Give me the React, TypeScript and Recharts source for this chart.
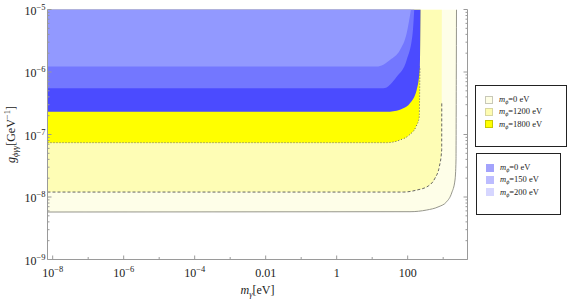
import React from 'react';
import { ComposedChart, Area, Line, XAxis, YAxis, Label } from 'recharts';

const TOP = 1e-5;
const BOTTOM = 1e-9;
const X_MIN = 7.15e-9;
const X_MAX = 4840;

// yellow regions (mass in eV, coupling in GeV^-1 along the lower/right edge)
const mass0 = [X_MIN, 116, 343, 714, 1256, 1734, 2153, 2296, 2340, 2372];
const coupling0 = [5.75e-9, 5.82e-9, 6.19e-9, 6.92e-9, 8.41e-9, 1.16e-8, 1.87e-8, 3.91e-8, 7.5e-7, 1e-5];

const mass1200 = [X_MIN, 75, 179, 380, 587, 777, 907, 912, 916];
const coupling1200 = [1.2e-8, 1.2e-8, 1.29e-8, 1.5e-8, 2.0e-8, 3.05e-8, 5.65e-8, 3.31e-7, 1e-5];

const mass1800 = [X_MIN, 25.6, 60.7, 111, 171, 212, 216, 222, 230];
const coupling1800 = [7.4e-8, 7.4e-8, 8.17e-8, 9.82e-8, 1.33e-7, 1.9e-7, 3.56e-7, 1.22e-6, 1e-5];

// blue regions
const massB0 = [X_MIN, 31.7, 75.2, 116, 179, 222, 230];
const couplingB0 = [2.32e-7, 2.32e-7, 2.62e-7, 3.16e-7, 5.15e-7, 1.22e-6, 1e-5];

const massB150 = [X_MIN, 20.6, 49, 93.7, 138, 153];
const couplingB150 = [5.48e-7, 5.48e-7, 8.41e-7, 1.56e-6, 4.16e-6, 1e-5];

const massB200 = [X_MIN, 13.4, 31.7, 60.7, 93.7, 124];
const couplingB200 = [1.22e-6, 1.22e-6, 1.56e-6, 2.25e-6, 4.16e-6, 1e-5];

const xTicks = [1e-8, 1e-7, 1e-6, 1e-5, 1e-4, 1e-3, 1e-2, 1e-1, 1, 10, 100, 1000];
const xPlainLabels: Record<number, string> = { [-2]: '0.01', 0: '1', 2: '100' };
const yDecades = [-9, -8, -7, -6];
const yTicks = [...yDecades.flatMap((e) => [1, 2, 3, 4, 5, 6, 7, 8, 9].map((k) => k * Math.pow(10, e))), TOP];

const yellowLegend = ['0', '1200', '1800'];
const blueLegend = ['0', '150', '200'];

const FONT = '"Liberation Serif", "Times New Roman", Times, serif';
const FRAME = '#9a9a9a';
const TEXT = '#222';

type Row = { m: number; [key: string]: number };
const series: [string, number[], number[]][] = [
  ['y0', mass0, coupling0],
  ['y1200', mass1200, coupling1200],
  ['y1800', mass1800, coupling1800],
  ['b0', massB0, couplingB0],
  ['b150', massB150, couplingB150],
  ['b200', massB200, couplingB200],
];
const rowMap = new Map<number, Row>();
series.forEach(([key, ms, gs]) => {
  ms.forEach((m, i) => {
    const row = rowMap.get(m) || { m };
    row[key] = gs[i];
    rowMap.set(m, row);
  });
});
const chartData = [...rowMap.values()].sort((a, b) => a.m - b.m);

const expOf = (v: number) => Math.round(Math.log10(v));
const isDecade = (v: number) => Math.abs(Math.log10(v) - expOf(v)) < 1e-6;

const PowText = ({ x, y, exp, anchor }: any) => (
  <text x={x} y={y} textAnchor={anchor} fontFamily={FONT} fontSize={12} fill={TEXT}>
    <tspan>10</tspan>
    <tspan dy={-5} fontSize={8.5}>{'\u2212' + Math.abs(exp)}</tspan>
  </text>
);

const BottomTick = ({ x, y, payload }: any) => {
  const e = expOf(payload.value);
  const labelled = e % 2 === 0;
  return (
    <g>
      <line x1={x} y1={y} x2={x} y2={y - (labelled ? 4 : 2.5)} stroke={FRAME} />
      {labelled && e <= -4 && <PowText x={x} y={y + 17} exp={e} anchor="middle" />}
      {labelled && e > -4 && (
        <text x={x} y={y + 17} textAnchor="middle" fontFamily={FONT} fontSize={12} fill={TEXT}>
          {xPlainLabels[e]}
        </text>
      )}
    </g>
  );
};

const TopTick = ({ x, y, payload }: any) => {
  const e = expOf(payload.value);
  return <line x1={x} y1={y} x2={x} y2={y + (e % 2 === 0 ? 4 : 2.5)} stroke={FRAME} />;
};

const LeftTick = ({ x, y, payload }: any) => {
  const major = isDecade(payload.value);
  return (
    <g>
      <line x1={x} y1={y} x2={x + (major ? 4 : 2)} y2={y} stroke={FRAME} />
      {major && <PowText x={x - 2} y={y + 5} exp={expOf(payload.value)} anchor="end" />}
    </g>
  );
};

const RightTick = ({ x, y, payload }: any) => {
  const major = isDecade(payload.value);
  return <line x1={x} y1={y} x2={x - (major ? 4 : 2)} y2={y} stroke={FRAME} />;
};

const XTitle = ({ viewBox }: any) => {
  const cx = viewBox.x + viewBox.width / 2;
  return (
    <text x={cx} y={viewBox.y + 34} textAnchor="middle" fontFamily={FONT} fontSize={12} fill={TEXT}>
      <tspan fontStyle="italic">m</tspan>
      <tspan dy={3} fontSize={8.5} fontStyle="italic">γ</tspan>
      <tspan dy={-3}>[eV]</tspan>
    </text>
  );
};

const YTitle = ({ viewBox }: any) => {
  const cy = viewBox.y + viewBox.height / 2;
  const bx = 15;
  return (
    <text
      x={bx}
      y={cy}
      transform={`rotate(-90, ${bx}, ${cy})`}
      textAnchor="middle"
      fontFamily={FONT}
      fontSize={12}
      fill={TEXT}
    >
      <tspan fontStyle="italic">g</tspan>
      <tspan dy={3} fontSize={8.5} fontStyle="italic">ϕγγ</tspan>
      <tspan dy={-3}>[GeV</tspan>
      <tspan dy={-5} fontSize={8.5}>{'\u22121'}</tspan>
      <tspan dy={5}>]</tspan>
    </text>
  );
};

const rangeKey = (key: string) => (r: Row) => (r[key] != null ? [r[key], TOP] : [null, null]);
const edgeKey = (key: string, below: number) => (r: Row) =>
  r[key] != null && r[key] <= below ? r[key] : null;

const regionFills: [string, string][] = [
  ['y0', '#fefee8'],
  ['y1200', '#fefdb5'],
  ['y1800', '#ffff00'],
  ['b0', '#4b4bff'],
  ['b150', '#7377ff'],
  ['b200', '#9299ff'],
];

const LegendBox = ({ left, top, width, masses, swatches }: any) => (
  <div
    style={{
      position: 'absolute',
      left,
      top,
      width,
      height: 62,
      border: '1px solid #222',
      boxSizing: 'border-box',
      background: '#fff',
      fontFamily: FONT,
      fontSize: 8.5,
      color: TEXT,
    }}
  >
    {masses.map((mass: string, i: number) => (
      <div
        key={mass + i}
        style={{ position: 'absolute', left: 9, top: 7.5 + i * 12.3, height: 12, display: 'flex', alignItems: 'center', whiteSpace: 'nowrap' }}
      >
        <div
          style={{ width: 6, height: 6, background: swatches[i][0], border: `1px solid ${swatches[i][1]}`, marginRight: 6 }}
        />
        <span>
          <i>m</i>
          <i style={{ fontSize: 6, verticalAlign: -2 }}>ϕ</i>=
          {mass} eV
        </span>
      </div>
    ))}
  </div>
);

export default function App() {
  return (
    <div style={{ position: 'absolute', left: 0, top: 0, width: 568, height: 302, background: '#fff' }}>
      <ComposedChart width={568} height={302} data={chartData} margin={{ top: 9.5, right: 0, bottom: 0, left: 0 }}>
        <XAxis
          xAxisId="bottom"
          dataKey="m"
          type="number"
          scale="log"
          domain={[X_MIN, X_MAX]}
          allowDataOverflow
          ticks={xTicks}
          interval={0}
          tick={BottomTick}
          tickSize={0}
          tickMargin={0}
          tickLine={false}
          axisLine={{ stroke: FRAME }}
          height={42.5}
        >
          <Label content={XTitle} />
        </XAxis>
        <XAxis
          xAxisId="top"
          orientation="top"
          dataKey="m"
          type="number"
          scale="log"
          domain={[X_MIN, X_MAX]}
          allowDataOverflow
          ticks={xTicks}
          interval={0}
          tick={TopTick}
          tickSize={0}
          tickMargin={0}
          tickLine={false}
          axisLine={{ stroke: FRAME }}
          height={0}
        />
        <YAxis
          yAxisId="left"
          type="number"
          scale="log"
          domain={[BOTTOM, TOP]}
          allowDataOverflow
          ticks={yTicks}
          interval={0}
          tick={LeftTick}
          tickSize={0}
          tickMargin={0}
          tickLine={false}
          axisLine={{ stroke: FRAME }}
          width={47.5}
        >
          <Label content={YTitle} />
        </YAxis>
        <YAxis
          yAxisId="right"
          orientation="right"
          type="number"
          scale="log"
          domain={[BOTTOM, TOP]}
          allowDataOverflow
          ticks={yTicks}
          interval={0}
          tick={RightTick}
          tickSize={0}
          tickMargin={0}
          tickLine={false}
          axisLine={{ stroke: FRAME }}
          width={100.5}
        />
        {regionFills.map(([key, color]) => (
          <Area
            key={key}
            xAxisId="bottom"
            yAxisId="left"
            type="monotone"
            dataKey={rangeKey(key)}
            fill={color}
            fillOpacity={1}
            stroke="none"
            connectNulls
            isAnimationActive={false}
            activeDot={false}
          />
        ))}
        <Line
          xAxisId="bottom"
          yAxisId="left"
          type="monotone"
          dataKey={edgeKey('y0', TOP)}
          stroke="#8a8a80"
          strokeWidth={0.9}
          dot={false}
          activeDot={false}
          connectNulls
          isAnimationActive={false}
        />
        <Line
          xAxisId="bottom"
          yAxisId="left"
          type="monotone"
          dataKey={edgeKey('y1200', 3.4e-7)}
          stroke="#555"
          strokeWidth={0.9}
          strokeDasharray="3 2"
          dot={false}
          activeDot={false}
          connectNulls
          isAnimationActive={false}
        />
        <Line
          xAxisId="bottom"
          yAxisId="left"
          type="monotone"
          dataKey={edgeKey('y1800', 1.3e-6)}
          stroke="#666"
          strokeWidth={1}
          strokeDasharray="1 2"
          dot={false}
          activeDot={false}
          connectNulls
          isAnimationActive={false}
        />
      </ComposedChart>
      <LegendBox
        left={475}
        top={85}
        width={92}
        masses={yellowLegend}
        swatches={[
          ['#fefee6', '#c8c8b8'],
          ['#fefcb0', '#d8d6a0'],
          ['#ffff00', '#c8c800'],
        ]}
      />
      <LegendBox
        left={476}
        top={153}
        width={85}
        masses={blueLegend}
        swatches={[
          ['#a3a3fc', '#a3a3fc'],
          ['#bcbcff', '#bcbcff'],
          ['#d6d6ff', '#d6d6ff'],
        ]}
      />
    </div>
  );
}
